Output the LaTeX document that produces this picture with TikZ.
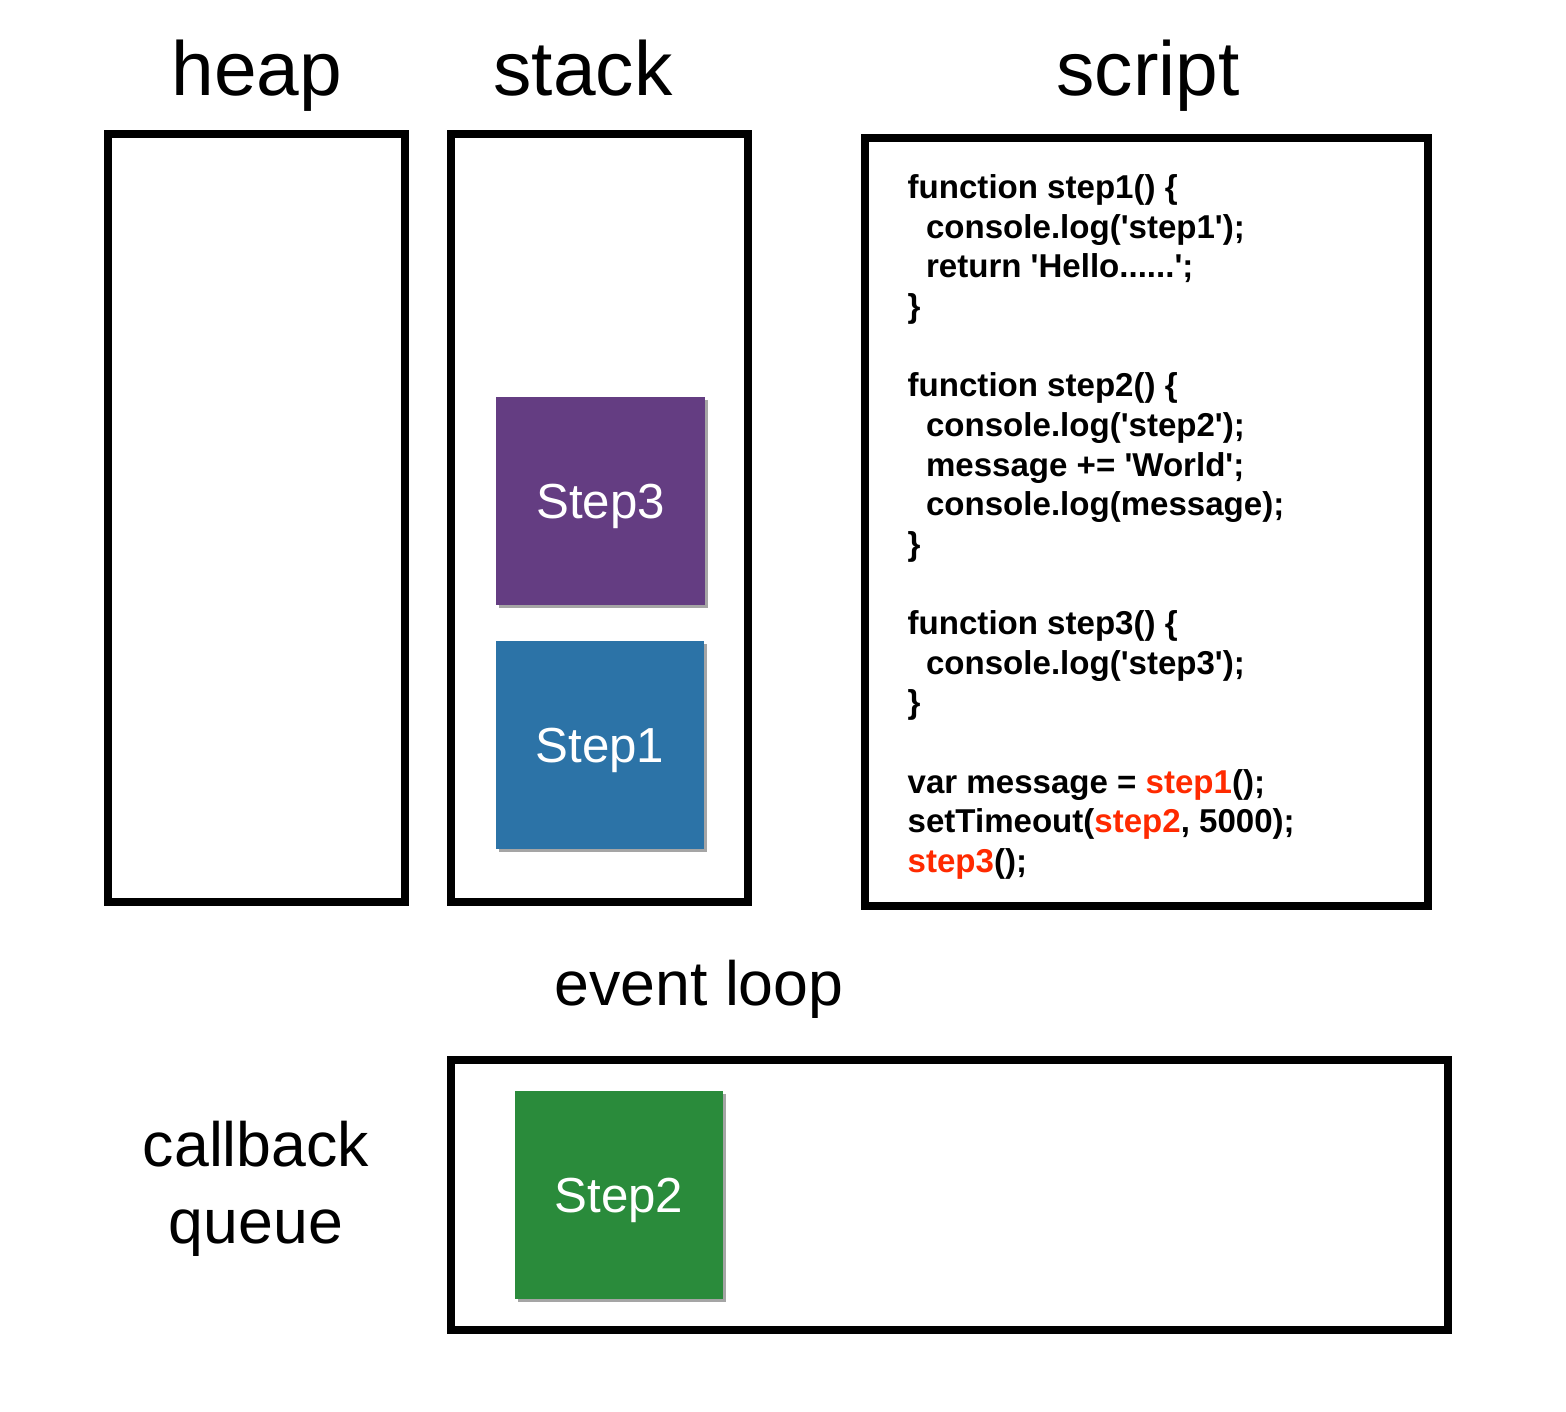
\documentclass[tikz,border=0pt]{standalone}
\usepackage{fontspec}
\setmainfont{Liberation Sans}
\newfontfamily\codefont{Liberation Sans}[Ligatures=TeXOff]
\usetikzlibrary{shadows}
\definecolor{stepthree}{HTML}{643D82}
\definecolor{stepone}{HTML}{2C73A7}
\definecolor{steptwo}{HTML}{2A8B3B}
\definecolor{callred}{HTML}{FF2A00}
\def\call#1{\textcolor{callred}{#1}}
\def\ind{\mbox{\ \ }}
\tikzset{
	panel/.style={line width=2.3pt, draw=black},
	title/.style={anchor=base, inner sep=0pt, font=\fontsize{21.8}{26}\selectfont},
	subtitle/.style={inner sep=0pt, align=center, font=\fontsize{17.8}{21}\selectfont},
	stepbox/.style={minimum width=2.08cm, minimum height=2.08cm, inner sep=0pt, text=white,
		text depth=0pt, font=\fontsize{14}{16}\selectfont,
		drop shadow={shadow xshift=0.03cm, shadow yshift=-0.03cm, opacity=0.5, fill=black!70}},
}

\begin{document}
\begin{tikzpicture}[x=0.01cm, y=-0.01cm]
			%%%%% START %%%%%
			\useasboundingbox (0, 0) rectangle (1566, 1412);
			
			% titles
			\node[title] (heap) at (257, 95) {heap};
			\node[title] (stack) at (583, 95) {stack};
			\node[title] (script) at (1148, 95) {script};
			
			% panels
			\draw[panel] (108, 134) rectangle (405, 902);
			\draw[panel] (451, 134) rectangle (748, 902);
			\draw[panel] (865, 138) rectangle (1428, 906);
			\draw[panel] (451, 1060) rectangle (1448, 1330);
			
			% stack frames
			\node[stepbox, fill=stepthree] (step3) at (600.5, 501) {Step3};
			\node[stepbox, fill=stepone] (step1) at (600, 745) {Step1};
			
			% code
			\node[anchor=north west, inner sep=0pt, align=left,
				font={\codefont\bfseries\fontsize{9.4}{11.27}\selectfont}] (code) at (907, 174) {%
				function step1() \{\\
				\ind console.log('step1');\\
				\ind return 'Hello......';\\
				\}\\[11.27pt]
				function step2() \{\\
				\ind console.log('step2');\\
				\ind message += 'World';\\
				\ind console.log(message);\\
				\}\\[11.27pt]
				function step3() \{\\
				\ind console.log('step3');\\
				\}\\[11.27pt]
				var message = \call{step1}();\\
				setTimeout(\call{step2}, 5000);\\
				\call{step3}();};
			
			% event loop / callback queue
			\node[title, font=\fontsize{17.8}{21}\selectfont] (loop) at (699, 1005) {event loop};
			\node[subtitle] (queue) at (256, 1189) {callback\\[1pt]queue};
			\node[stepbox, fill=steptwo] (step2) at (619, 1195) {Step2};
			
			%%%%% END %%%%%
\end{tikzpicture}
\end{document}
